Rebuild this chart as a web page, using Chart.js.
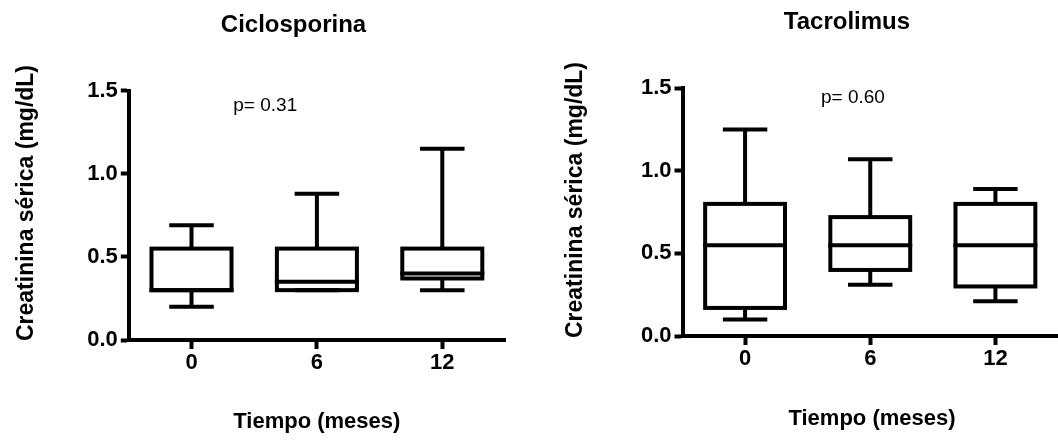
<!DOCTYPE html>
<html><head><meta charset="utf-8">
<script src="https://cdn.jsdelivr.net/npm/chart.js@4"></script>
<style>
html,body{margin:0;padding:0;background:#fff;width:1058px;height:443px;overflow:hidden;}
canvas{position:absolute;top:0;}
#c1{left:0;} #c2{left:529px;}
</style></head><body>
<canvas id="c1" width="529" height="443"></canvas>
<canvas id="c2" width="529" height="443"></canvas>
<script>
// ---- data ----
const categories = ['0', '6', '12'];
const yTickLabels = ['0.0', '0.5', '1.0', '1.5'];

const cicloMin = [0.2, 0.3, 0.3];
const cicloQ1  = [0.3, 0.3, 0.37];
const cicloMed = [0.3, 0.35, 0.4];
const cicloQ3  = [0.55, 0.55, 0.55];
const cicloMax = [0.69, 0.88, 1.15];

const tacroMin = [0.1, 0.31, 0.21];
const tacroQ1  = [0.17, 0.4, 0.3];
const tacroMed = [0.55, 0.55, 0.55];
const tacroQ3  = [0.8, 0.72, 0.8];
const tacroMax = [1.25, 1.07, 0.89];

const FONT = '"Liberation Sans", Arial, Helvetica, sans-serif';
const LW = 4;

const boxPlugin = {
  id: 'boxLines',
  afterDatasetsDraw(chart, args, opts) {
    const ctx = chart.ctx;
    const xs = chart.scales.x, ys = chart.scales.y;
    const meta = chart.getDatasetMeta(0);
    const s = opts.stats;
    ctx.save();
    ctx.strokeStyle = '#000';
    ctx.lineWidth = LW;
    ctx.lineCap = 'butt';
    meta.data.forEach((bar, i) => {
      const cx = xs.getPixelForValue(i);
      const half = bar.width / 2;
      const capHalf = (xs.width / categories.length) * opts.capRatio / 2;
      const yMin = ys.getPixelForValue(s.min[i]);
      const yQ1 = ys.getPixelForValue(s.q1[i]);
      const yMed = ys.getPixelForValue(s.med[i]);
      const yQ3 = ys.getPixelForValue(s.q3[i]);
      const yMax = ys.getPixelForValue(s.max[i]);
      ctx.beginPath();
      ctx.moveTo(cx, yQ3); ctx.lineTo(cx, yMax);
      ctx.moveTo(cx - capHalf, yMax); ctx.lineTo(cx + capHalf, yMax);
      ctx.moveTo(cx, yQ1); ctx.lineTo(cx, yMin);
      ctx.moveTo(cx - capHalf, yMin); ctx.lineTo(cx + capHalf, yMin);
      ctx.moveTo(cx - half, yMed); ctx.lineTo(cx + half, yMed);
      ctx.stroke();
      ctx.strokeRect(cx - half + LW / 2, yQ3, bar.width - LW, yQ1 - yQ3);
    });
    ctx.restore();
  }
};

const textPlugin = {
  id: 'panelTexts',
  afterDraw(chart, args, o) {
    const ctx = chart.ctx;
    ctx.save();
    ctx.fillStyle = '#000';
    ctx.textBaseline = 'alphabetic';
    ctx.textAlign = 'center';
    ctx.font = 'bold 24px ' + FONT;
    ctx.fillText(o.title, o.titlePos[0], o.titlePos[1]);
    ctx.font = 'bold 22px ' + FONT;
    ctx.fillText(o.xTitle, o.xTitlePos[0], o.xTitlePos[1]);
    ctx.textAlign = 'left';
    ctx.font = '19px ' + FONT;
    ctx.fillText(o.pText, o.pPos[0], o.pPos[1]);
    ctx.translate(o.yTitlePos[0], o.yTitlePos[1]);
    ctx.rotate(-Math.PI / 2);
    ctx.textAlign = 'center';
    ctx.textBaseline = 'middle';
    ctx.font = 'bold 23px ' + FONT;
    ctx.fillText(o.yTitle, 0, 0);
    ctx.restore();
  }
};

function makeChart(id, stats, lay, texts) {
  return new Chart(document.getElementById(id), {
    type: 'bar',
    data: {
      labels: categories,
      datasets: [{
        data: stats.q1.map((v, i) => [v, stats.q3[i]]),
        backgroundColor: '#ffffff',
        borderWidth: 0,
        barPercentage: 0.67,
        categoryPercentage: 1.0
      }]
    },
    options: {
      responsive: false,
      animation: false,
      devicePixelRatio: 1,
      layout: { padding: { left: 0, right: lay.padRight, top: lay.top, bottom: 0 } },
      plugins: {
        legend: { display: false },
        tooltip: { enabled: false },
        title: { display: false },
        boxLines: { stats: stats, capRatio: 0.355 },
        panelTexts: texts
      },
      scales: {
        x: {
          afterFit(scale) { scale.height = 443 - lay.bottom; },
          grid: { display: true, drawOnChartArea: false, offset: false, tickLength: 9, tickWidth: LW, tickColor: '#000' },
          border: { display: true, color: '#000', width: LW },
          ticks: { color: '#000', padding: 1, font: { family: FONT, size: 22, weight: 'bold' } }
        },
        y: {
          min: 0, max: 1.5,
          afterFit(scale) { scale.width = lay.left; },
          grid: { display: true, drawOnChartArea: false, tickLength: 8, tickWidth: LW, tickColor: '#000' },
          border: { display: true, color: '#000', width: LW },
          ticks: {
            stepSize: 0.5, color: '#000', padding: 3,
            font: { family: FONT, size: 22, weight: 'bold' },
            callback: (v, i) => yTickLabels[i]
          }
        }
      }
    },
    plugins: [boxPlugin, textPlugin]
  });
}

makeChart('c1',
  { min: cicloMin, q1: cicloQ1, med: cicloMed, q3: cicloQ3, max: cicloMax },
  { left: 128.8, padRight: 24, top: 90.7, bottom: 340 },
  { title: 'Ciclosporina', titlePos: [293.5, 31.7],
    xTitle: 'Tiempo (meses)', xTitlePos: [316.8, 428],
    yTitle: 'Creatinina sérica (mg/dL)', yTitlePos: [27, 203],
    pText: 'p= 0.31', pPos: [233.3, 110.7] });

makeChart('c2',
  { min: tacroMin, q1: tacroQ1, med: tacroMed, q3: tacroQ3, max: tacroMax },
  { left: 153.5, padRight: 0, top: 88.3, bottom: 336 },
  { title: 'Tacrolimus', titlePos: [318, 29],
    xTitle: 'Tiempo (meses)', xTitlePos: [343, 425],
    yTitle: 'Creatinina sérica (mg/dL)', yTitlePos: [47, 200],
    pText: 'p= 0.60', pPos: [292, 103] });
</script>
</body></html>
